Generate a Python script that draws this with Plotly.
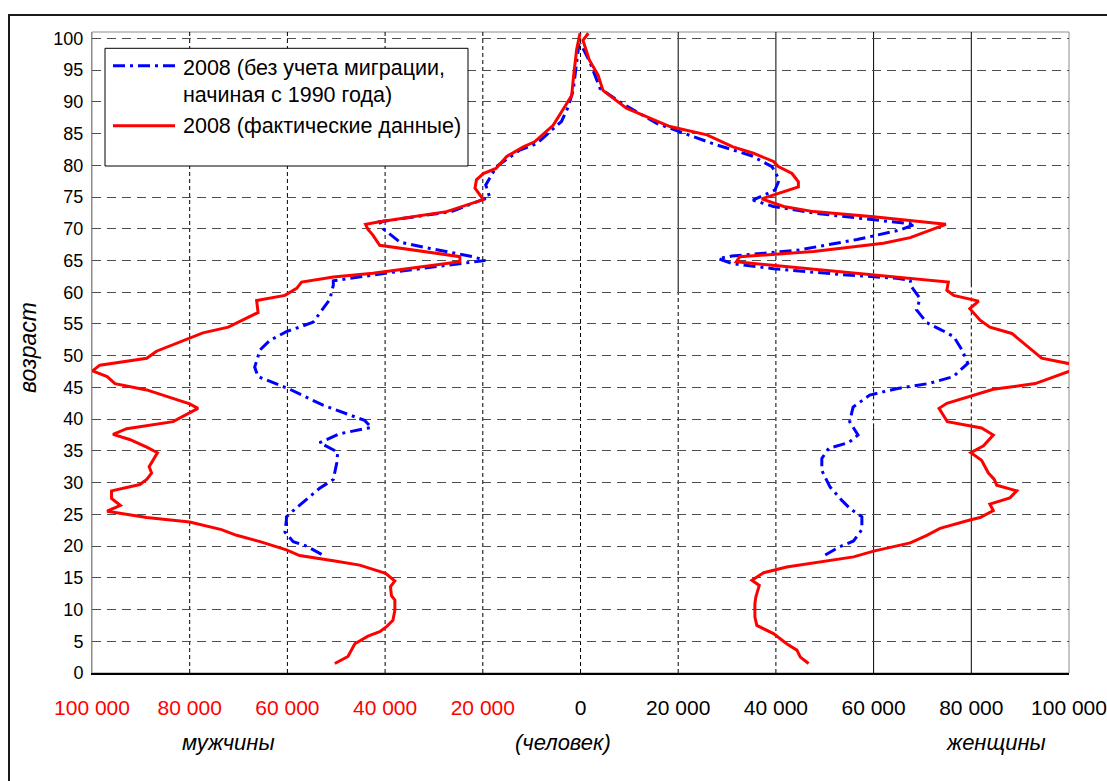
import plotly.graph_objects as go

# --- data ------------------------------------------------------------------
# men, actual 2008 data (age, persons)
men_fact_age = [1.5, 2.6, 4.6, 5.8, 6.5, 7.3, 8.3, 9.9, 11.5, 12.2, 13.6, 14.5, 15.7, 17, 17.7,
                18.5, 19.4, 20.7, 21.7, 22.6, 23.8, 24.5, 25.5, 26.4, 27.5, 28.7, 29.7, 30.5,
                31.5, 32.5, 34.7, 35.6, 36.8, 37.6, 38.5, 39.6, 41.7, 42.4, 44.6, 45.6, 46.7,
                47.6, 48.5, 49.6, 50.7, 52.7, 53.6, 54.5, 56.8, 58.7, 59.5, 60.6, 61.6, 62.4,
                63, 64.8, 65.6, 67.4, 69, 69.9, 70.7, 71.1, 72.7, 74.6, 76.4, 77.7, 78.7, 79.5,
                81.4, 82.9, 83.7, 86.3, 88.7, 91, 93.4, 98.2, 100.8]
men_fact = [50300, 47600, 46200, 43500, 41100, 39700, 38400, 38000, 38000, 38700, 38900, 38000,
            39900, 45200, 50600, 57500, 60200, 65600, 70400, 73500, 80000, 88800, 96900, 94200,
            96000, 96000, 90200, 88800, 87800, 88300, 86600, 88800, 92300, 95700, 92900, 83400,
            78300, 80000, 88800, 95300, 96900, 99900, 98400, 88800, 86800, 80000, 77300, 72100,
            66000, 66300, 60500, 58100, 57100, 50600, 42500, 24700, 24700, 41100, 42500, 43500,
            44000, 41100, 27400, 19900, 21600, 21300, 19900, 17300, 15100, 11700, 9400, 5600,
            3600, 1800, 1500, 800, 100]

# women, actual 2008 data
women_fact_age = [1.5, 2.5, 3.6, 4.6, 6.2, 7.5, 8.8, 10.9, 12, 13.8, 14.6, 15.8, 16.7, 18.3,
                  19.2, 20.5, 21.7, 22.8, 24.1, 24.5, 25.6, 26.6, 27.6, 28.7, 29.6, 30.5, 31.5,
                  33.5, 34.7, 35.8, 37.5, 38.6, 39.6, 41.7, 42.5, 43.6, 44.7, 45.6, 47.8, 48.6,
                  49.6, 53.5, 54.5, 55.6, 57.4, 58.6, 59.5, 60.3, 61.6, 64.8, 65.6, 66.4, 67.7,
                  68.6, 70.7, 71.9, 72.7, 73.5, 74.7, 76.6, 77.4, 78.7, 79.8, 80.6, 81.9, 82.9,
                  84.8, 86.1, 89, 91.8, 94.2, 96.6, 99.7, 100.8]
women_fact = [46700, 45000, 44300, 42200, 39500, 36100, 35700, 35700, 35900, 36600, 35100, 37500,
              42200, 55900, 60000, 67500, 70900, 73600, 79700, 81800, 84500, 83800, 87900, 89300,
              85200, 84700, 83500, 82100, 79900, 82500, 84500, 82100, 75100, 73400, 75000, 79800,
              84500, 93100, 101000, 101000, 94400, 88300, 83800, 81800, 79700, 81500, 76400, 75000,
              75300, 31900, 32600, 47700, 62000, 67500, 74800, 60000, 47700, 41600, 37100, 44600,
              44600, 43300, 40500, 39500, 35400, 31200, 25900, 18300, 9400, 4600, 3600, 1800,
              500, 1600]

# men, 2008 without migration since 1990
men_nomig_age = [18.7, 20, 20.7, 22.2, 24.1, 24.6, 25.6, 29.1, 30.5, 33.1, 34.8, 36.3, 37.7,
                 38.7, 39.8, 40.8, 42.2, 44.7, 46.7, 48.2, 50.9, 52.4, 53.8, 54.5, 55.3, 58.9,
                 61.1, 61.8, 63.2, 65, 65.6, 66.9, 67.9, 70, 71.1, 72.7, 75, 76.9, 79.8, 82.4,
                 83.4, 86.9, 89.2, 91.8, 96, 99.2]
men_nomig = [53000, 56100, 58800, 60500, 60200, 60200, 58800, 53400, 50600, 49900, 49700, 53400,
             49300, 42800, 44200, 47900, 52700, 59500, 66000, 66700, 65600, 63600, 60200, 57500,
             54700, 51300, 50600, 50600, 38000, 19500, 22000, 30800, 37000, 40400, 41100, 26500,
             18600, 19400, 17200, 12400, 9000, 3900, 2500, 1500, 800, 300]

# women, 2008 without migration since 1990
women_nomig_age = [18.6, 19.9, 20.8, 22.6, 24.6, 25.9, 27.2, 29.3, 31.9, 33.8, 35.4, 36.3, 37.5,
                   39.6, 41.9, 43.8, 44.8, 45.6, 46.7, 48.8, 50.9, 53, 54, 55.2, 57.2, 59, 60.8,
                   61.9, 62.2, 62.8, 63.7, 64.5, 65.3, 65.7, 66.6, 68.3, 69.8, 70.7, 71.6, 72.4,
                   73.5, 74.5, 76.1, 77.7, 79.8, 81.5, 83.4, 86.6, 90, 92.1, 96.3, 99.2]
women_nomig = [50100, 53100, 55900, 57600, 57600, 55200, 53500, 51100, 49400, 49400, 50800, 54900,
               56800, 55100, 55800, 59200, 64700, 71200, 76300, 79300, 78100, 76400, 74000, 70900,
               68800, 69500, 67800, 67500, 64700, 53100, 39500, 31000, 28200, 31000, 44300, 56600,
               65400, 68500, 57800, 48400, 39500, 35300, 39800, 40700, 39200, 35000, 27100, 15600,
               8000, 4000, 1900, 0]

x_ticks = [-100000, -80000, -60000, -40000, -20000, 0, 20000, 40000, 60000, 80000, 100000]
x_labels = ["100 000", "80 000", "60 000", "40 000", "20 000", "0",
            "20 000", "40 000", "60 000", "80 000", "100 000"]
y_ticks = list(range(0, 101, 5))

FONT = "Liberation Sans, Arial, sans-serif"
BLUE = "#0000FF"
RED = "#FF0000"
NOMIG_DASH = "12px,5px,3px,5px"

W, H = 1107, 781
# plot area in pixels (also used for the hand-made legend / frame)
L, R, T, B = 92, 1069, 32, 673


def px(x):
    return (x - L) / (R - L)


def py(y):
    return (B - y) / (B - T)


fig = go.Figure()

for xs, ys in [([-v for v in men_nomig], men_nomig_age), (women_nomig, women_nomig_age)]:
    fig.add_trace(go.Scatter(x=xs, y=ys, mode="lines", showlegend=False, hoverinfo="skip",
                             line=dict(color=BLUE, width=3, dash=NOMIG_DASH)))
for xs, ys in [([-v for v in men_fact], men_fact_age), (women_fact, women_fact_age)]:
    fig.add_trace(go.Scatter(x=xs, y=ys, mode="lines", showlegend=False, hoverinfo="skip",
                             line=dict(color=RED, width=3)))

# vertical grid lines: a mix of dashed and solid pieces as in the original
vlines = [
    (-80000, [(0, 101, "dash")]),
    (-60000, [(0, 101, "dash")]),
    (-40000, [(0, 101, "dash")]),
    (-20000, [(0, 101, "dash")]),
    (0, [(0, 101, "dash")]),
    (20000, [(0, 60, "dash"), (60, 101, "solid")]),
    (40000, [(0, 70.8, "dash"), (70.8, 101, "solid")]),
    (60000, [(0, 38.7, "solid"), (38.7, 65, "dash"), (65, 101, "solid")]),
    (80000, [(0, 38.7, "solid"), (38.7, 60.8, "dash"), (60.8, 101, "solid")]),
]
shapes = []
for xv, parts in vlines:
    for y0, y1, st in parts:
        shapes.append(dict(type="line", xref="x", yref="y", x0=xv, x1=xv, y0=y0, y1=y1,
                           layer="below",
                           line=dict(color="#000000", width=1,
                                     dash="4px,3px" if st == "dash" else "solid")))

# plot-area border (grey) and outer frame
shapes.append(dict(type="rect", xref="paper", yref="paper", x0=0, x1=1, y0=0, y1=1,
                   layer="below", line=dict(color="#8c8c8c", width=1)))
shapes.append(dict(type="rect", xref="paper", yref="paper", x0=px(9), x1=1.2,
                   y0=-0.4, y1=py(15), line=dict(color="#1a1a1a", width=2)))

# legend box
shapes.append(dict(type="rect", xref="paper", yref="paper", x0=px(105), x1=px(468),
                   y0=py(166), y1=py(48.3), fillcolor="white",
                   line=dict(color="#000000", width=1), layer="above"))
shapes.append(dict(type="line", xref="paper", yref="paper", x0=px(113), x1=px(175),
                   y0=py(65.7), y1=py(65.7), layer="above",
                   line=dict(color=BLUE, width=3, dash=NOMIG_DASH)))
shapes.append(dict(type="line", xref="paper", yref="paper", x0=px(113), x1=px(175),
                   y0=py(125.7), y1=py(125.7), layer="above",
                   line=dict(color=RED, width=3)))

annotations = [
    dict(text="2008 (без учета миграции,", x=px(181), y=py(68),
         xanchor="left", yanchor="middle", font=dict(size=21.5)),
    dict(text="начиная с 1990 года)", x=px(181), y=py(95),
         xanchor="left", yanchor="middle", font=dict(size=21.5)),
    dict(text="2008 (фактические данные)", x=px(181), y=py(126),
         xanchor="left", yanchor="middle", font=dict(size=21.5)),
    dict(text="<i>возраст</i>", x=px(28), y=py(348), textangle=-90,
         xanchor="center", yanchor="middle", font=dict(size=23)),
    dict(text="<i>мужчины</i>", x=px(228.5), y=py(742),
         xanchor="center", yanchor="middle", font=dict(size=22)),
    dict(text="<i>(человек)</i>", x=px(562.5), y=py(742),
         xanchor="center", yanchor="middle", font=dict(size=22)),
    dict(text="<i>женщины</i>", x=px(995.5), y=py(742),
         xanchor="center", yanchor="middle", font=dict(size=22)),
]
for a in annotations:
    a.update(xref="paper", yref="paper", showarrow=False)
    a["font"].update(color="#000000", family=FONT)

tick_text = [f'<span style="color:{RED}">{t}</span>' if v < 0 else t
             for v, t in zip(x_ticks, x_labels)]

fig.update_layout(
    width=W, height=H,
    margin=dict(l=L, r=W - R, t=T, b=H - B),
    paper_bgcolor="white", plot_bgcolor="white",
    font=dict(family=FONT, color="#000000"),
    showlegend=False,
    shapes=shapes,
    annotations=annotations,
    xaxis=dict(range=[-100000, 100000], tickvals=x_ticks, ticktext=tick_text,
               showgrid=False, zeroline=False, showline=True, linecolor="#000000",
               linewidth=1.5, ticks="", tickfont=dict(size=21), ticklabelstandoff=15,
               automargin=False),
    yaxis=dict(range=[0, 101], tickvals=y_ticks, showgrid=True, gridcolor="#4d4d4d",
               griddash="9px,6px", gridwidth=1, zeroline=False, showline=True,
               linecolor="#8c8c8c", linewidth=1, ticks="", tickfont=dict(size=18),
               ticklabelstandoff=4, automargin=False),
)

# drop the default 8px body margin so the figure fills the window exactly
fig.write_html("out.html", config={"displayModeBar": False},
               post_script="document.body.style.margin = '0';")
